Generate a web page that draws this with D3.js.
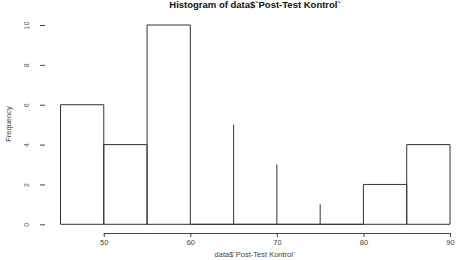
<!DOCTYPE html>
<html>
<head>
<meta charset="utf-8">
<script src="https://cdn.jsdelivr.net/npm/d3@7"></script>
<style>
  body { margin: 0; background: #fff; }
  svg { display: block; font-family: "Liberation Sans", Arial, sans-serif; }
</style>
</head>
<body>
<div id="chart"></div>
<script>
// histogram bins (left edges) and counts
var binEdges = [45, 50, 55, 60, 65, 70, 75, 80, 85, 90];
var binCounts = [6, 4, 10, 0, 0, 0, 0, 2, 4];
// zero-width spikes that show up as single lines
var spikeX = [65, 70, 75];
var spikeCounts = [5, 3, 1];
var xTicks = [50, 60, 70, 80, 90];
var yTicks = [0, 2, 4, 6, 8, 10];

var svgWidth = 463, svgHeight = 260;
var svg = d3.select("#chart").append("svg")
  .attr("width", svgWidth)
  .attr("height", svgHeight);

var x = d3.scaleLinear().domain([45, 90]).range([60.5, 450]);
var y = d3.scaleLinear().domain([0, 10]).range([224.3, 25]);

var bins = [];
for (var i = 0; i < binCounts.length; i++) {
  bins.push({ x0: binEdges[i], x1: binEdges[i + 1], n: binCounts[i] });
}

// bars as closed paths so empty bins still show their bottom line
svg.selectAll(".bar")
  .data(bins)
  .enter().append("path")
  .attr("class", "bar")
  .attr("d", function (d) {
    var p = d3.path();
    p.moveTo(x(d.x0), y(0));
    p.lineTo(x(d.x0), y(d.n));
    p.lineTo(x(d.x1), y(d.n));
    p.lineTo(x(d.x1), y(0));
    p.closePath();
    return p.toString();
  })
  .attr("fill", "none")
  .attr("stroke", "#333")
  .attr("stroke-width", 1);

svg.selectAll(".spike")
  .data(spikeX)
  .enter().append("line")
  .attr("class", "spike")
  .attr("x1", function (d) { return x(d); })
  .attr("x2", function (d) { return x(d); })
  .attr("y1", y(0))
  .attr("y2", function (d, i) { return y(spikeCounts[i]); })
  .attr("stroke", "#333")
  .attr("stroke-width", 1);

// x axis (R style: line only spans the tick range)
var xAxis = d3.axisBottom(x).tickValues(xTicks).tickSize(4).tickSizeOuter(0);
var gx = svg.append("g")
  .attr("transform", "translate(0,233)")
  .call(xAxis);
gx.select(".domain").remove();
gx.append("line")
  .attr("x1", x(xTicks[0]))
  .attr("x2", x(xTicks[xTicks.length - 1]))
  .attr("y1", 0.5).attr("y2", 0.5)
  .attr("stroke", "#444");
gx.selectAll(".tick line").attr("stroke", "#444");
gx.selectAll(".tick text")
  .attr("y", 7)
  .attr("fill", "#444")
  .style("font-size", "7.5px");

// y axis: ticks only, labels rotated
var yAxis = d3.axisLeft(y).tickValues(yTicks).tickSize(5);
var gy = svg.append("g")
  .attr("transform", "translate(45,0)")
  .call(yAxis);
gy.select(".domain").remove();
gy.selectAll(".tick line").attr("stroke", "#444").attr("x1", 0).attr("x2", -5);
gy.selectAll(".tick text")
  .attr("x", 0).attr("y", 0).attr("dy", 0)
  .attr("transform", "translate(-16,0) rotate(-90)")
  .attr("text-anchor", "middle")
  .attr("fill", "#555")
  .style("font-size", "7px");

// titles
svg.append("text")
  .attr("x", 255)
  .attr("y", 8)
  .attr("text-anchor", "middle")
  .style("font-size", "9.5px")
  .style("font-weight", "bold")
  .attr("fill", "#111")
  .text("Histogram of data$`Post-Test Kontrol`");

svg.append("text")
  .attr("x", 255)
  .attr("y", 257)
  .attr("text-anchor", "middle")
  .style("font-size", "7.5px")
  .attr("fill", "#444")
  .text("data$`Post-Test Kontrol`");

svg.append("text")
  .attr("transform", "translate(11,124) rotate(-90)")
  .attr("text-anchor", "middle")
  .style("font-size", "7.5px")
  .attr("fill", "#444")
  .text("Frequency");
</script>
</body>
</html>
